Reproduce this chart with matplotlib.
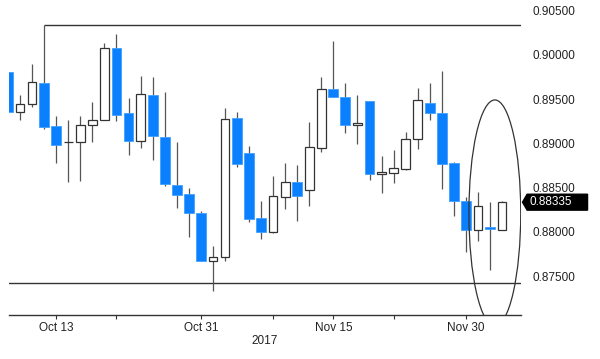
import matplotlib
matplotlib.use("Agg")
import matplotlib.pyplot as plt
from matplotlib.patches import Ellipse, Polygon
import matplotlib.transforms as mtransforms

# daily candles, Oct 9 - Dec 5 2017 (weekdays only)
opens = [0.89808, 0.89355, 0.89446, 0.89683, 0.89197, 0.89016, 0.89016, 0.89208,
         0.89265, 0.90079, 0.89344, 0.89027, 0.89548, 0.89072, 0.88529, 0.88428,
         0.88213, 0.87670, 0.87715, 0.89287, 0.88891, 0.88156, 0.87998, 0.88394,
         0.88563, 0.88473, 0.88948, 0.89615, 0.89525, 0.89208, 0.89480, 0.88654,
         0.88665, 0.88710, 0.89050, 0.89457, 0.89344, 0.88778, 0.88348, 0.88020,
         0.88054, 0.88020]
highs = [0.89808, 0.89548, 0.89898, 0.90339, 0.89310, 0.89265, 0.89310, 0.89468,
         0.90136, 0.90238, 0.89514, 0.89762, 0.89751, 0.89581, 0.89016, 0.88495,
         0.88235, 0.87839, 0.89400, 0.89355, 0.88971, 0.88348, 0.88631, 0.88778,
         0.88756, 0.89242, 0.89751, 0.90158, 0.89683, 0.89548, 0.89485, 0.88857,
         0.88925, 0.89129, 0.89627, 0.89683, 0.89819, 0.88790, 0.88394, 0.88450,
         0.88337, 0.88348]
lows = [0.89355, 0.89265, 0.89412, 0.89163, 0.88778, 0.88563, 0.88575, 0.89016,
        0.89265, 0.89253, 0.88869, 0.88948, 0.88812, 0.88518, 0.88269, 0.87941,
        0.87670, 0.87330, 0.87670, 0.88733, 0.88111, 0.87919, 0.87990, 0.88258,
        0.88122, 0.88292, 0.88903, 0.89520, 0.89118, 0.88993, 0.88586, 0.88439,
        0.88552, 0.88699, 0.88937, 0.89265, 0.88484, 0.88179, 0.87772, 0.87896,
        0.87568, 0.88015]
closes = [0.89355, 0.89446, 0.89695, 0.89186, 0.88982, 0.89020, 0.89208, 0.89265,
          0.90079, 0.89321, 0.89027, 0.89559, 0.89084, 0.88541, 0.88416, 0.88213,
          0.87670, 0.87715, 0.89276, 0.88767, 0.88145, 0.87998, 0.88405, 0.88563,
          0.88405, 0.88959, 0.89615, 0.89525, 0.89208, 0.89231, 0.88654, 0.88676,
          0.88722, 0.89050, 0.89491, 0.89344, 0.88767, 0.88348, 0.88020, 0.88292,
          0.88032, 0.88335]

tick_idx = [4, 9, 16, 22, 27, 32, 38]
tick_labels = ["Oct 13", "", "Oct 31", "", "Nov 15", "", "Nov 30"]
y_ticks = [0.875, 0.880, 0.885, 0.890, 0.895, 0.900, 0.905]

resistance = 0.90339
resistance_start = 3
support = 0.87424
last_price = 0.88335

BLUE = "#0a80ff"
BLUE_EDGE = "#40a0ff"
DARK = "#333333"
TXT = "#222222"
FS = 8.5


def main():
    plt.rcParams["font.family"] = ["Liberation Sans", "DejaVu Sans"]
    fig = plt.figure(figsize=(6, 3.59), dpi=100)
    ax = fig.add_axes([0.015, 0.1226, 0.8533, 0.8774])

    xs = list(range(len(opens)))
    ax.vlines(xs, lows, highs, color="#555555", linewidth=0.9, zorder=2)

    for i in xs:
        o, c = opens[i], closes[i]
        bottom = min(o, c)
        h = abs(c - o)
        if c < o:
            ax.bar(i, h, bottom=bottom, width=0.82, color=BLUE,
                   edgecolor=BLUE_EDGE, linewidth=0.6, zorder=3)
        else:
            ax.bar(i, h, bottom=bottom, width=0.72, color="white",
                   edgecolor=DARK, linewidth=0.9, zorder=3)

    # support / resistance
    ax.hlines(resistance, resistance_start, 43, color=DARK, linewidth=1.0, zorder=1)
    ax.axhline(support, color=DARK, linewidth=1.0, zorder=1)

    # ellipse around last candles
    ax.add_patch(Ellipse((40.4, 0.88213), 4.3, 0.02557, fill=False,
                         edgecolor=DARK, linewidth=0.9, zorder=4))

    ax.set_xlim(0.08, 42.57)
    ax.set_ylim(0.87059, 0.90622)

    for s in ["top", "left", "right"]:
        ax.spines[s].set_visible(False)
    ax.spines["bottom"].set_color(DARK)
    ax.spines["bottom"].set_linewidth(1.0)

    ax.set_xticks(tick_idx)
    ax.set_xticklabels(tick_labels, fontsize=FS, color=TXT)
    ax.tick_params(axis="x", length=3, width=0.8, color=DARK, pad=2)

    ax.yaxis.tick_right()
    ax.set_yticks(y_ticks)
    ax.set_yticklabels([f"{v:.5f}" for v in y_ticks], fontsize=FS, color=TXT)
    ax.tick_params(axis="y", length=0, pad=8)

    trans = mtransforms.blended_transform_factory(ax.transData, fig.transFigure)
    ax.text(21.3, 1 - 341 / 359, "2017", transform=trans, ha="center",
            va="center", fontsize=FS, color=TXT)

    # last price tag
    tag = mtransforms.blended_transform_factory(ax.transAxes, ax.transData)
    h = 0.0009
    ax.add_patch(Polygon([[1.003, last_price], [1.012, last_price + h],
                          [1.13, last_price + h], [1.13, last_price - h],
                          [1.012, last_price - h]], closed=True,
                         transform=tag, facecolor="black", edgecolor="black",
                         clip_on=False, zorder=5))
    ax.text(1.016, last_price, f"{last_price:.5f}", transform=tag, ha="left",
            va="center", fontsize=FS, color="white", zorder=6)

    fig.savefig("out.png", dpi=100)
    return 0


if __name__ == "__main__":
    raise SystemExit(main())
